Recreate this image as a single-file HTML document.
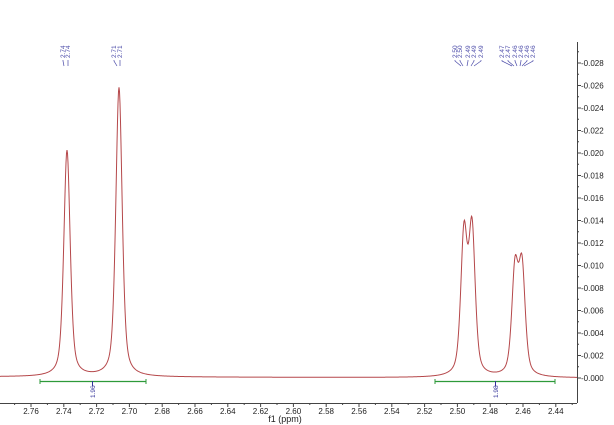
<!DOCTYPE html>
<html><head><meta charset="utf-8"><style>
body{margin:0;background:#fff;}
svg{display:block;font-family:"Liberation Sans",sans-serif;}
</style></head><body>
<svg id="s" width="614" height="425" viewBox="0 0 614 425">
<rect width="614" height="425" fill="#fff"/>
<line x1="0" y1="403.5" x2="577" y2="403.5" stroke="#444" stroke-width="1"/>
<line x1="577.5" y1="42" x2="577.5" y2="403" stroke="#444" stroke-width="1"/>
<g id="ax" font-size="8" fill="#222"></g>
<path id="spec" fill="none" stroke="#b5474a" stroke-width="1"/>
<g stroke="#2e9a3a" stroke-width="1.3">
<line x1="40" y1="381.5" x2="146" y2="381.5"/>
<line x1="435" y1="381.5" x2="555" y2="381.5"/>
</g>
<g stroke="#2e9a3a" stroke-width="1"><line x1="40" y1="379" x2="40" y2="384"/><line x1="146" y1="379" x2="146" y2="384"/><line x1="435" y1="379" x2="435" y2="384"/><line x1="555" y1="379" x2="555" y2="384"/></g>
<g stroke="#33339a" stroke-width="1"><line x1="92.5" y1="381" x2="92.5" y2="386"/><line x1="495.5" y1="381" x2="495.5" y2="386"/></g>
<g font-size="6.5" fill="#33339a">
<text transform="translate(95,398) rotate(-90)">1.96</text>
<text transform="translate(498,398) rotate(-90)">1.98</text>
</g>
<g id="pk" font-size="6.5" fill="#4a4aa8"></g>
<text x="285" y="422" font-size="9" fill="#222" text-anchor="middle">f1 (ppm)</text>
</svg>
<script>
function X(v){return 31+(2.76-v)/0.02*32.8;}
function Y(v){return 378-v/0.002*22.5;}
var ax=document.getElementById("ax"),h="";
for(var i=0;i<=40;i++){var v=2.78-i*0.01;var x=X(v);if(x<0||x>577)continue;
h+='<line x1="'+x+'" y1="403" x2="'+x+'" y2="'+(i%2==0?407:405)+'" stroke="#444"/>';
if(i%2==0)h+='<text x="'+x+'" y="414" text-anchor="middle">'+v.toFixed(2)+'</text>';}
for(var v2=0;v2<=0.0301;v2+=0.001){var y=Y(v2);if(y<42)continue;var mj=Math.round(v2*1000)%2==0;
h+='<line x1="577" y1="'+y+'" x2="'+(mj?581:579)+'" y2="'+y+'" stroke="#444"/>';
if(mj)h+='<text x="581" y="'+(y+3)+'">-'+v2.toFixed(3)+'</text>';}
ax.innerHTML=h;
var P=[[67,0.0201],[119,0.0257],[464,0.0124],[472,0.0128],[515,0.0092],[522,0.0094]];
var w=3.8,d="";
for(var x=0;x<=577;x+=0.5){var s=0;for(var k=0;k<P.length;k++){var t=(x-P[k][0])/w;
s+=P[k][1]*(0.5/(1+t*t)+0.5*Math.exp(-0.693*t*t));}
var y=378-s/0.002*22.5-(577-x)*0.002;d+=(x==0?"M":"L")+x+","+y.toFixed(2);}
document.getElementById("spec").setAttribute("d",d);
var L=[[63,"2.74",64],[68,"2.74",68],[114,"2.71",117],[120,"2.71",120],
[455,"2.50",461],[460,"2.50",463],[468,"2.49",467],[474,"2.49",471],[481,"2.49",474],
[502,"2.47",512],[508,"2.47",514],[515,"2.46",517],[521,"2.46",520],[527,"2.46",522],[533,"2.46",524]];
var g="";
for(var j=0;j<L.length;j++){var a=L[j];
g+='<text transform="translate('+(a[0]+2)+',58) rotate(-90)">'+a[1]+'</text>';
g+='<polyline points="'+a[0]+',60 '+a[0]+',61 '+a[2]+',66" fill="none" stroke="#4a4aa8" stroke-width="0.7"/>';}
document.getElementById("pk").innerHTML=g;
</script>
</body></html>
